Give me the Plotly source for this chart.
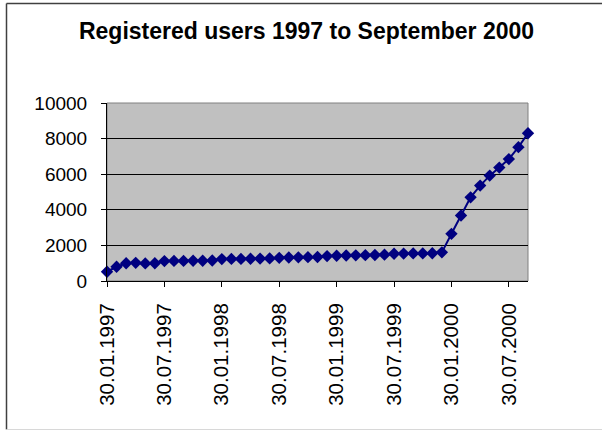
import plotly.graph_objects as go

# ---- data ----
months = ["01", "02", "03", "04", "05", "06", "07", "08", "09", "10", "11", "12"]
years = ["1997", "1998", "1999", "2000"]
dates = []
for y in years:
    for m in months:
        if y == "2000" and int(m) > 9:
            break
        day = "28" if m == "02" else "30"
        dates.append(f"{day}.{m}.{y}")

users = [
    520, 800, 1000, 1020, 990, 1000, 1120, 1130, 1130, 1140, 1140, 1150,
    1230, 1240, 1240, 1250, 1260, 1270, 1300, 1320, 1330, 1340, 1350, 1400,
    1420, 1430, 1440, 1450, 1460, 1480, 1530, 1540, 1550, 1550, 1560, 1610,
    2650, 3680, 4700, 5360, 5920, 6370, 6850, 7520, 8300,
]
tick_labels = [d for i, d in enumerate(dates) if i % 6 == 0]
y_ticks = [0, 2000, 4000, 6000, 8000, 10000]
y_tick_text = [str(v) for v in y_ticks]

title = "Registered users 1997 to September 2000"

# ---- layout constants (pixels) ----
W, H = 602, 431
L, R, T, B = 107, 528, 103, 281
pw, ph = R - L, B - T

def px(x):
    return (x - L) / pw

def py(y):
    return (B - y) / ph

FONT = "Liberation Sans, Arial, sans-serif"
NAVY = "#000080"

fig = go.Figure()
fig.add_trace(go.Scatter(
    x=dates, y=users, mode="lines+markers",
    line=dict(color=NAVY, width=2),
    marker=dict(symbol="diamond", size=9.5, color=NAVY),
    cliponaxis=False, showlegend=False,
))

shapes = [
    # plot area border (gray)
    dict(type="rect", xref="paper", yref="paper", x0=0, x1=1, y0=0, y1=1,
         line=dict(color="#808080", width=1), layer="below"),
    # chart area border
    dict(type="line", xref="paper", yref="paper", x0=px(6.5), x1=px(6.5),
         y0=py(3.5), y1=py(429.5), line=dict(color="#404040", width=1.5)),
    dict(type="line", xref="paper", yref="paper", x0=px(6.5), x1=px(610),
         y0=py(3.5), y1=py(3.5), line=dict(color="#404040", width=1.5)),
    dict(type="line", xref="paper", yref="paper", x0=px(6.5), x1=px(610),
         y0=py(429.5), y1=py(429.5), line=dict(color="#d8d8d8", width=1)),
]

fig.update_layout(
    width=W, height=H,
    margin=dict(l=L, r=W - R, t=T, b=H - B, pad=0),
    paper_bgcolor="white", plot_bgcolor="#C0C0C0",
    font=dict(family=FONT, color="black"),
    title=dict(text=f"<b>{title}</b>", x=306.5 / W, xref="container", xanchor="center",
               y=1 - 30.5 / H, yref="container", yanchor="middle",
               font=dict(size=23, family=FONT, color="black")),
    shapes=shapes,
    xaxis=dict(
        type="category", range=[0, len(dates) - 1],
        tickmode="array", tickvals=tick_labels, ticktext=tick_labels,
        tickangle=-90, tickfont=dict(size=20.5, family=FONT, color="black"),
        ticks="outside", ticklen=5, tickcolor="black", tickwidth=1,
        showline=True, linecolor="black", linewidth=1,
        showgrid=False, zeroline=False, ticklabelstandoff=8,
    ),
    yaxis=dict(
        range=[0, 10000], tickmode="array", tickvals=y_ticks, ticktext=y_tick_text,
        tickfont=dict(size=19, family=FONT, color="black"),
        ticks="outside", ticklen=5, tickcolor="black", tickwidth=1,
        showline=True, linecolor="black", linewidth=1,
        showgrid=True, gridcolor="black", gridwidth=1, zeroline=False,
        ticklabelstandoff=10,
    ),
)

fig.write_html("out.html")
